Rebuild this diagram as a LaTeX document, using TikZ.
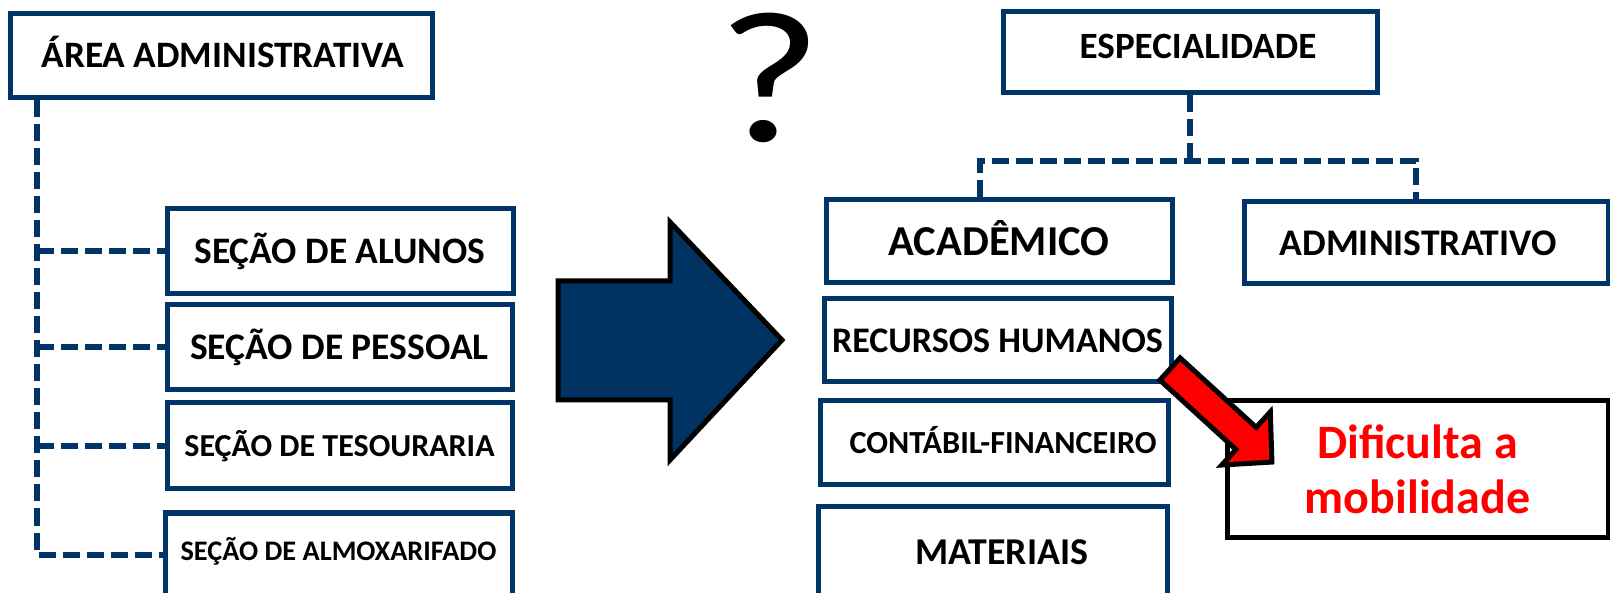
\documentclass[tikz,border=0pt]{standalone}
\usepackage{fontspec}
\setmainfont{Carlito}
\newlength{\du}
\setlength{\du}{1pt}
\definecolor{boxline}{rgb}{0.000000, 0.200000, 0.400000}
\definecolor{arrowfill}{rgb}{0.000000, 0.200000, 0.380000}
\tikzset{
  orgbox/.style={draw=boxline, line width=5\du, fill=white, inner sep=0pt,
    minimum width=346\du, minimum height=84\du, text depth=0pt},
  orgline/.style={draw=boxline, line width=6\du, dash pattern=on 17\du off 7\du},
  fs/.style={font=\fontsize{#1}{#1}\selectfont\bfseries, text height=0.64*#1pt},
}

\begin{document}
\begin{tikzpicture}
\pgftransformxscale{1.000000}
\pgftransformyscale{-1.000000}
\useasboundingbox (0\du,0\du) rectangle (1610\du,593\du);
% left side: old structure
\node[orgbox, minimum width=422\du, fs=37.3] (area) at (221\du,56\du){\hspace*{4\du}ÁREA ADMINISTRATIVA};
\node[orgbox, minimum height=85\du, fs=37.4] (alunos) at (340\du,251.5\du){SEÇÃO DE ALUNOS};
\node[orgbox, minimum width=345\du, minimum height=85\du, fs=37.5] (pessoal) at (339.5\du,347.5\du){SEÇÃO DE PESSOAL};
\node[orgbox, minimum width=345\du, minimum height=86\du, fs=32] (tesouraria) at (339.5\du,446\du){SEÇÃO DE TESOURARIA};
\node[orgbox, minimum width=347\du, fs=28.3, text depth=8\du] (almox) at (338.5\du,555\du){SEÇÃO DE ALMOXARIFADO};
\coordinate (spine) at (37\du,97\du);
\draw[orgline] (area.south -| spine) -- (spine |- almox.west) -- (almox.west);
\draw[orgline] (spine |- alunos.west) -- (alunos.west);
\draw[orgline] (spine |- pessoal.west) -- (pessoal.west);
\draw[orgline] (spine |- tesouraria.west) -- (tesouraria.west);
% question and big arrow
\node[font=\fontsize{188}{188}\selectfont, inner sep=0pt] (qmark) at (770\du,78\du){\scalebox{1.2}[1]{?}};
\draw[fill=arrowfill, draw=black, line width=5\du] (558\du,281\du) -- (670\du,281\du) -- (670\du,222\du)
  -- (782\du,340\du) -- (670\du,460\du) -- (670\du,400\du) -- (558\du,400\du) -- cycle;
% right side: new structure
\node[orgbox, minimum width=374\du, minimum height=81\du, fs=37.1, text depth=12\du] (espec) at (1190\du,52.5\du){\hspace*{16\du}ESPECIALIDADE};
\node[orgbox, minimum height=83\du, fs=42.6] (academico) at (999\du,241.5\du){ACADÊMICO};
\node[orgbox, minimum width=364\du, minimum height=82\du, fs=37.6] (admin) at (1426\du,243\du){ADMINISTRATIVO\hspace*{16\du}};
\node[orgbox, minimum width=347\du, minimum height=83\du, fs=36] (rh) at (997.5\du,340.5\du){RECURSOS HUMANOS};
\node[orgbox, minimum width=348\du, fs=32.2] (contabil) at (994\du,443\du){\hspace*{18\du}CONTÁBIL-FINANCEIRO};
\node[orgbox, minimum width=349\du, minimum height=90\du, fs=37.9] (materiais) at (992.5\du,552\du){\hspace*{19\du}MATERIAIS};
\coordinate (jl) at (980\du,161\du);
\coordinate (jr) at (1416\du,161\du);
\draw[orgline] (espec.south) -- (espec.south |- jl);
\draw[orgline] (academico.north -| jl) -- (jl) -- (jr) -- (admin.north -| jr);
\node[draw=black, line width=5\du, fill=white, minimum width=381\du, minimum height=136\du, align=center,
  text=red, font=\fontsize{48}{55}\selectfont\bfseries] (dificulta) at (1417.5\du,469\du){Dificulta a\\mobilidade};
% red arrow
\begin{scope}[shift={(1170\du,369\du)}, rotate=42.4]
\draw[fill=red, draw=black, line width=5\du] (0\du,-15\du) -- (103\du,-15\du) -- (103\du,-36\du)
  -- (138\du,0\du) -- (103\du,36\du) -- (103\du,15\du) -- (0\du,15\du) -- cycle;
\end{scope}
\end{tikzpicture}
\end{document}
